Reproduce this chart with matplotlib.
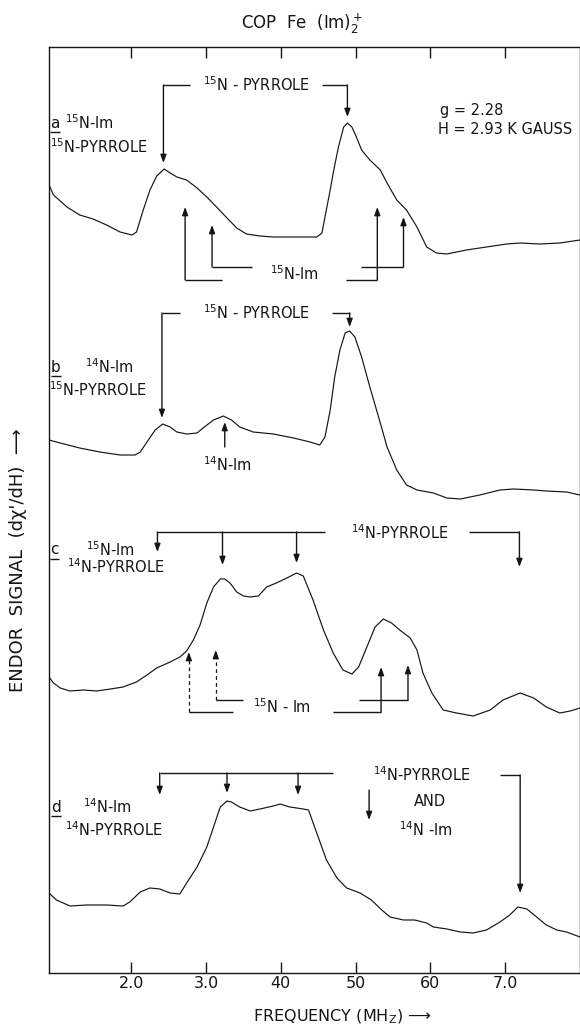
import matplotlib.pyplot as plt

# ENDOR spectra of COP Fe(Im)2+, g = 2.28, H = 2.93 kG
# signal values are in plot units (stacked traces, bottom axis = 0)

# a: 15N-Im / 15N-pyrrole
freq_a = [0.90, 0.96, 1.14, 1.31, 1.49, 1.67, 1.85, 2.01, 2.07, 2.16,
          2.25, 2.34, 2.44, 2.52, 2.61, 2.74, 2.88, 3.01, 3.14, 3.28,
          3.41, 3.54, 3.72, 3.90, 4.12, 4.30, 4.48, 4.55, 4.59, 4.66,
          4.70, 4.77, 4.84, 4.89, 4.95, 5.01, 5.08, 5.19, 5.33, 5.42,
          5.55, 5.68, 5.82, 5.95, 6.08, 6.22, 6.48, 6.75, 7.02, 7.20,
          7.46, 7.73, 8.00]
sig_a = [788, 778, 766, 758, 754, 748, 741, 738, 741, 763,
         783, 797, 804, 800, 796, 793, 785, 776, 766, 755,
         745, 739, 737, 736, 736, 736, 736, 740, 756, 783,
         800, 826, 846, 850, 846, 836, 823, 813, 803, 790,
         773, 763, 746, 726, 720, 719, 723, 726, 729, 730,
         729, 730, 733]

# b: 14N-Im / 15N-pyrrole
freq_b = [0.90, 1.05, 1.31, 1.58, 1.85, 2.05, 2.12, 2.21, 2.32, 2.42,
          2.52, 2.61, 2.74, 2.88, 2.96, 3.10, 3.23, 3.34, 3.45, 3.63,
          3.90, 4.17, 4.39, 4.52, 4.59, 4.66, 4.72, 4.79, 4.86, 4.92,
          4.99, 5.08, 5.19, 5.33, 5.42, 5.55, 5.68, 5.82, 6.04, 6.22,
          6.40, 6.66, 6.93, 7.11, 7.38, 7.55, 7.82, 8.00]
sig_b = [533, 530, 525, 521, 518, 518, 521, 531, 543, 549,
         546, 541, 539, 540, 545, 553, 557, 553, 546, 541,
         539, 535, 531, 528, 536, 563, 596, 623, 640, 642,
         636, 616, 586, 550, 526, 503, 488, 483, 480, 475,
         474, 478, 483, 484, 483, 482, 481, 478]

# c: 15N-Im / 14N-pyrrole
freq_c = [0.90, 0.96, 1.05, 1.18, 1.36, 1.54, 1.72, 1.89, 2.07, 2.21,
          2.34, 2.52, 2.65, 2.74, 2.83, 2.92, 3.01, 3.10, 3.19, 3.25,
          3.32, 3.41, 3.50, 3.59, 3.70, 3.81, 3.94, 4.08, 4.21, 4.30,
          4.43, 4.57, 4.70, 4.83, 4.95, 5.04, 5.15, 5.26, 5.37, 5.48,
          5.59, 5.73, 5.82, 5.90, 6.02, 6.17, 6.35, 6.57, 6.80, 6.97,
          7.20, 7.38, 7.55, 7.73, 7.87, 8.00]
sig_c = [296, 290, 285, 282, 283, 282, 284, 286, 291, 298,
         305, 311, 316, 322, 333, 348, 370, 386, 394, 394,
         390, 381, 377, 376, 377, 386, 390, 395, 400, 397,
         373, 343, 320, 303, 299, 306, 326, 346, 354, 350,
         343, 335, 323, 300, 280, 263, 260, 257, 263, 273,
         280, 275, 266, 260, 262, 265]

# d: 14N-Im / 14N-pyrrole
freq_d = [0.90, 1.00, 1.18, 1.40, 1.67, 1.89, 1.98, 2.12, 2.25, 2.38,
          2.52, 2.65, 2.74, 2.88, 3.01, 3.10, 3.19, 3.28, 3.34, 3.45,
          3.59, 3.72, 3.90, 3.99, 4.12, 4.30, 4.37, 4.48, 4.61, 4.75,
          4.88, 5.06, 5.21, 5.35, 5.46, 5.64, 5.79, 5.95, 6.04, 6.22,
          6.40, 6.57, 6.75, 6.93, 7.06, 7.17, 7.29, 7.42, 7.55, 7.69,
          7.82, 8.00]
sig_d = [80, 73, 67, 68, 68, 67, 71, 81, 85, 84,
         80, 79, 90, 106, 126, 146, 166, 172, 171, 166,
         162, 164, 167, 169, 166, 164, 163, 140, 113, 95,
         85, 80, 73, 63, 56, 53, 53, 50, 46, 44,
         41, 40, 43, 51, 58, 66, 64, 56, 48, 43,
         41, 36]

tick_pos = [2, 3, 4, 5, 6, 7]
tick_lbl = ['2.0', '3.0', '40', '50', '60', '7.0']

# line positions (MHz) marked by the arrows
pyr15_a = [2.43, 4.89]
im15_a = [2.72, 3.08, 5.29, 5.64]
pyr15_b = [2.41, 4.92]
im14_b = 3.25
pyr14_c = [2.35, 3.22, 4.21, 7.19]
im15_c = [2.77, 3.13, 5.34, 5.70]
pyr14_d = [2.38, 3.28, 4.23, 7.20]

plt.rcParams['font.family'] = 'DejaVu Sans'
plt.rcParams['mathtext.fontset'] = 'dejavusans'
ink = '#151515'
fs = 10.5

fig = plt.figure(figsize=(5.8, 10.26), dpi=100)
ax = fig.add_axes([49 / 580, 53 / 1026, 531 / 580, 926 / 1026])
ax.set_xlim(0.9, 8.0)
ax.set_ylim(0, 926)

for f, s in [(freq_a, sig_a), (freq_b, sig_b), (freq_c, sig_c), (freq_d, sig_d)]:
    ax.plot(f, s, color=ink, lw=0.85)

head = dict(arrowstyle='-|>,head_length=0.6,head_width=0.22', color=ink,
            lw=1.0, shrinkA=0, shrinkB=0, mutation_scale=8)


def arm(x, y0, y1, dashed=False):
    if dashed:
        step = 8 if y1 > y0 else -8
        ax.plot([x, x], [y0, y1 - step], color=ink, lw=0.9, ls=(0, (3, 2.5)))
        ax.annotate('', xy=(x, y1), xytext=(x, y1 - step), arrowprops=head)
    else:
        ax.annotate('', xy=(x, y1), xytext=(x, y0), arrowprops=head)


def seg(x0, x1, y):
    ax.plot([x0, x1], [y, y], color=ink, lw=1.0, solid_capstyle='butt')


def txt(x, y, s, ha='left', size=fs):
    ax.text(x, y, s, fontsize=size, ha=ha, va='center', color=ink)


def panel(x, y, letter):
    txt(x, y, letter, ha='center', size=fs + 0.5)
    seg(x - 0.06, x + 0.07, y - 9)


# a
panel(0.98, 850, 'a')
txt(1.11, 850, '$^{15}$N-Im')
txt(0.92, 826, '$^{15}$N-PYRROLE')
seg(pyr15_a[0], 2.79, 888)
seg(4.55, pyr15_a[1], 888)
arm(pyr15_a[0], 888, 810)
arm(pyr15_a[1], 888, 856)
txt(3.67, 888, '$^{15}$N - PYRROLE', ha='center')
txt(6.13, 863, 'g = 2.28')
txt(6.10, 843, 'H = 2.93 K GAUSS')
arm(im15_a[0], 693, 766)
arm(im15_a[1], 706, 748)
arm(im15_a[2], 693, 766)
arm(im15_a[3], 706, 756)
seg(im15_a[0], 3.21, 693)
seg(4.87, im15_a[2], 693)
seg(im15_a[1], 3.61, 706)
seg(5.07, im15_a[3], 706)
txt(4.18, 699, '$^{15}$N-Im', ha='center')

# b
panel(0.99, 606, 'b')
txt(1.38, 606, '$^{14}$N-Im')
txt(0.90, 583, '$^{15}$N-PYRROLE')
seg(pyr15_b[0], 2.65, 660)
seg(4.68, pyr15_b[1], 660)
arm(pyr15_b[0], 660, 555)
arm(pyr15_b[1], 660, 646)
txt(3.67, 660, '$^{15}$N - PYRROLE', ha='center')
arm(im14_b, 526, 551)
txt(3.28, 508, '$^{14}$N-Im', ha='center')

# c
panel(0.97, 423, 'c')
txt(1.40, 423, '$^{15}$N-Im')
txt(1.14, 406, '$^{14}$N-PYRROLE')
seg(pyr14_c[0], 4.59, 441)
seg(6.51, pyr14_c[3], 441)
arm(pyr14_c[0], 441, 421)
arm(pyr14_c[1], 441, 408)
arm(pyr14_c[2], 441, 410)
arm(pyr14_c[3], 441, 406)
txt(5.59, 440, '$^{14}$N-PYRROLE', ha='center')
arm(im15_c[0], 261, 321, dashed=True)
arm(im15_c[1], 273, 323, dashed=True)
arm(im15_c[2], 261, 306)
arm(im15_c[3], 273, 308)
seg(im15_c[0], 3.36, 261)
seg(4.70, im15_c[2], 261)
seg(im15_c[1], 3.50, 273)
seg(5.04, im15_c[3], 273)
txt(4.02, 266, '$^{15}$N - Im', ha='center')

# d
panel(0.99, 166, 'd')
txt(1.36, 166, '$^{14}$N-Im')
txt(1.11, 143, '$^{14}$N-PYRROLE')
seg(pyr14_d[0], 4.70, 200)
seg(6.93, pyr14_d[3], 198)
arm(pyr14_d[0], 200, 178)
arm(pyr14_d[1], 200, 180)
arm(pyr14_d[2], 200, 178)
arm(pyr14_d[3], 198, 80)
arm(5.18, 183, 153)
txt(5.89, 198, '$^{14}$N-PYRROLE', ha='center')
txt(5.99, 171, 'AND', ha='center')
txt(5.94, 143, '$^{14}$N -Im', ha='center')

ax.set_yticks([])
ax.set_xticks(tick_pos)
ax.set_xticklabels(tick_lbl)
ax.tick_params(axis='x', direction='in', top=True, length=8, width=1,
               pad=2, labelsize=11.5, colors=ink)
for side in ['left', 'bottom', 'top', 'right']:
    ax.spines[side].set_color(ink)
    ax.spines[side].set_linewidth(1.0)

fig.text(0.52, 0.977, 'COP  Fe  (Im)$_2^+$', ha='center', va='center',
         fontsize=12, color=ink)
fig.text(0.59, 0.009, 'FREQUENCY (MH$_\\mathregular{Z}$) \u27f6', ha='center',
         va='center', fontsize=11.5, color=ink)
fig.text(0.031, 0.454, "ENDOR  SIGNAL  (d\u03c7'/dH)  \u27f6", rotation=90,
         ha='center', va='center', fontsize=13, color=ink)

fig.savefig('out.png', dpi=100, facecolor='white')
